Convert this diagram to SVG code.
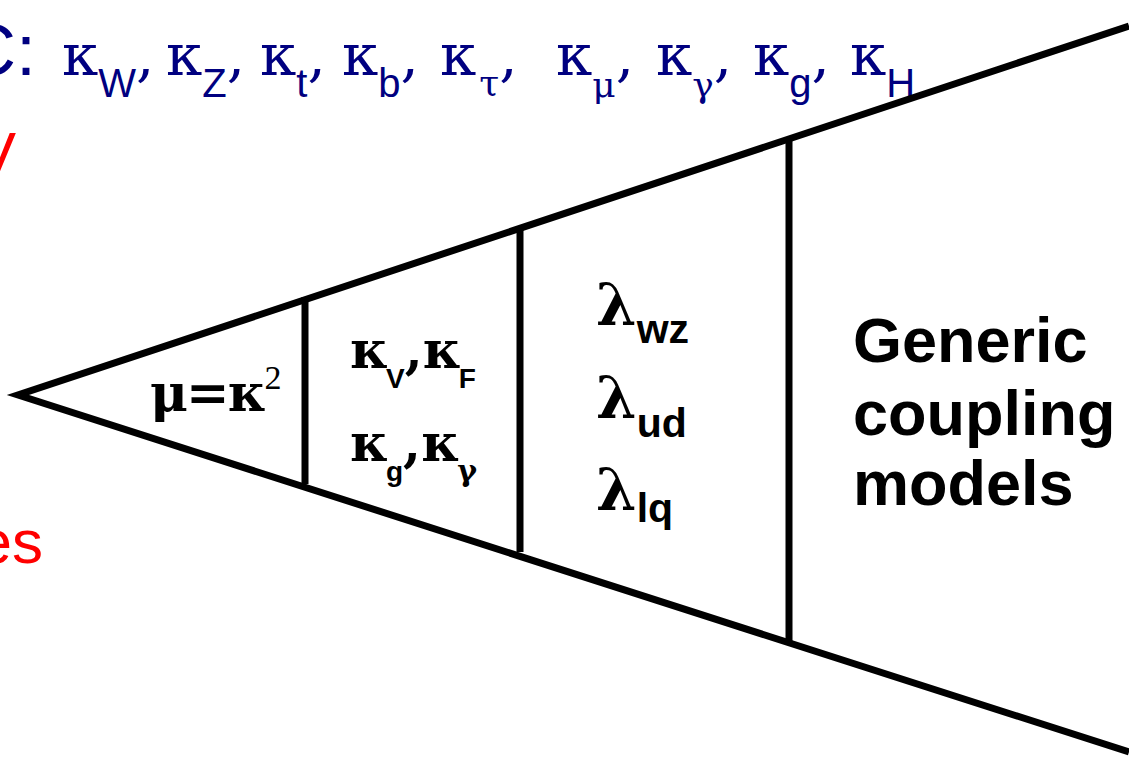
<svg xmlns="http://www.w3.org/2000/svg" width="1129" height="762" viewBox="0 0 1129 762">
<style>
.ln{stroke:#000;stroke-width:7;fill:none;stroke-linecap:butt}
.top{fill:#000080;font-family:"DejaVu Serif",serif;font-size:58px}
.tsub{font-family:"Liberation Sans",Arial,sans-serif;font-size:40px}
.sans{font-family:"Liberation Sans",Arial,sans-serif}
.red{fill:#ff0000;font-family:"Liberation Sans",Arial,sans-serif;font-size:62px}
.g{font-family:"DejaVu Serif",serif;font-weight:bold;fill:#000}
.bs{font-family:"Liberation Sans",Arial,sans-serif;font-weight:bold;fill:#000}
</style>
<g id="header">
<text class="top" y="75"><tspan class="sans" x="-36" font-size="72">C:</tspan><tspan x="62">κ</tspan><tspan class="tsub" dy="22">W</tspan><tspan dy="-22">,</tspan><tspan x="166">κ</tspan><tspan class="tsub" dy="22">Z</tspan><tspan dy="-22">,</tspan><tspan x="260">κ</tspan><tspan class="tsub" dy="22">t</tspan><tspan dy="-22">,</tspan><tspan x="342">κ</tspan><tspan class="tsub" dy="22">b</tspan><tspan dy="-22">,</tspan><tspan x="440">κ</tspan><tspan font-size="36" dx="3" dy="20">τ</tspan><tspan dy="-20">,</tspan><tspan x="556">κ</tspan><tspan font-size="36" dy="22">μ</tspan><tspan dy="-22">,</tspan><tspan x="656">κ</tspan><tspan font-size="36" dy="22">γ</tspan><tspan dy="-22">,</tspan><tspan x="753">κ</tspan><tspan class="tsub" dy="22">g</tspan><tspan dy="-22">,</tspan><tspan x="850">κ</tspan><tspan class="tsub" dy="22">H</tspan></text>
</g>
<g id="left-labels">
<text class="red" x="16" y="175" text-anchor="end">V</text>
<text class="red" x="43" y="563" text-anchor="end">es</text>
</g>
<g id="connectors">
<polyline class="ln" points="1129,26 18,395 1129,752"/>
<line class="ln" x1="305" y1="297" x2="305" y2="484"/>
<line class="ln" x1="520" y1="226" x2="520" y2="552"/>
<line class="ln" x1="789" y1="138" x2="789" y2="642"/>
</g>
<g id="n1">
<text class="g" x="150" y="411" font-size="52" letter-spacing="-2">μ=κ<tspan font-family="Liberation Serif" font-size="34" dy="-22" font-weight="normal" letter-spacing="0">2</tspan></text>
</g>
<g id="n2">
<text class="g" x="350" y="368" font-size="52">κ<tspan class="bs" font-size="28" dx="-3" dy="20">V</tspan><tspan dy="-20">,κ</tspan><tspan class="bs" font-size="28" dx="-3" dy="20">F</tspan></text>
<text class="g" x="350" y="461" font-size="52">κ<tspan class="bs" font-size="28" dx="-3" dy="20">g</tspan><tspan dy="-20">,κ</tspan><tspan font-size="30" dx="-3" dy="20">γ</tspan></text>
</g>
<g id="n3">
<text class="g" x="596" y="325" font-size="58">λ<tspan class="bs" font-size="41" dy="18">wz</tspan></text>
<text class="g" x="596" y="418" font-size="58">λ<tspan class="bs" font-size="41" dy="19">ud</tspan></text>
<text class="g" x="596" y="510" font-size="58">λ<tspan class="bs" font-size="41" dy="12">lq</tspan></text>
</g>
<g id="n4">
<text class="bs" font-size="63"><tspan x="853" y="362">Generic</tspan><tspan x="853" y="435">coupling</tspan><tspan x="853" y="505">models</tspan></text>
</g>
</svg>
